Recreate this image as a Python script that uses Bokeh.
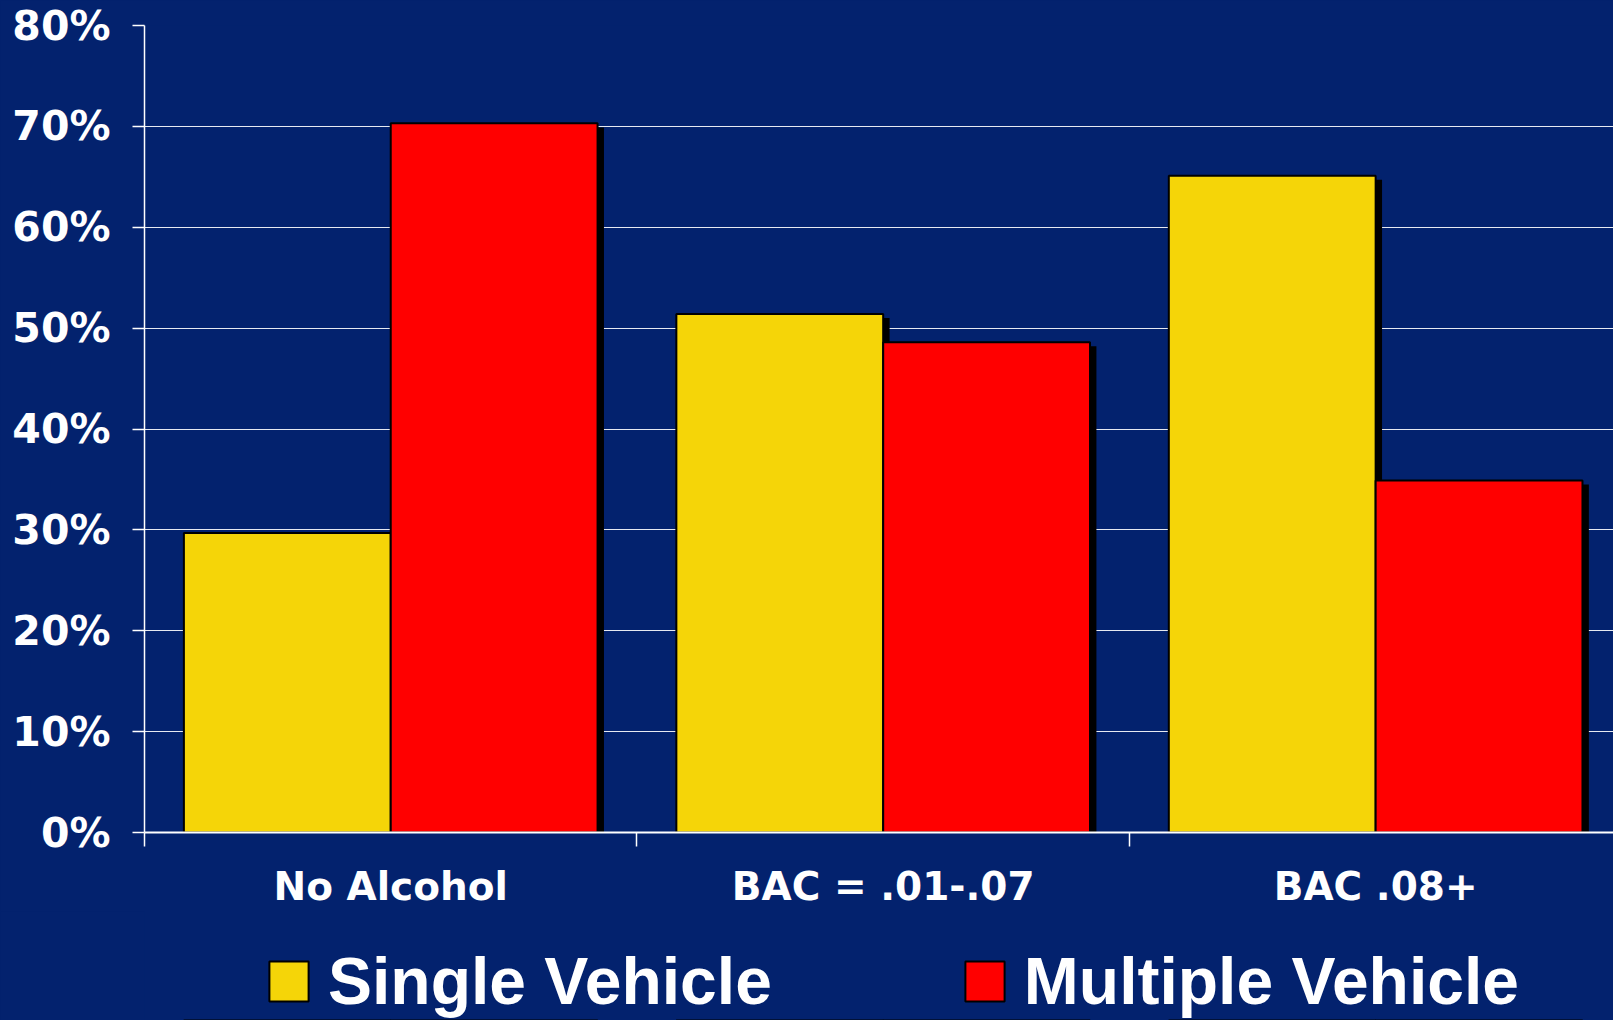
from bokeh.plotting import figure
from bokeh.layouts import column
from bokeh.models import FixedTicker, Legend, LegendItem, Range1d
from bokeh.embed import file_html
from bokeh.resources import INLINE

# ---- data ----
categories = ["No Alcohol", "BAC = .01-.07", "BAC .08+"]
single_vehicle = [29.7, 51.4, 65.1]
multiple_vehicle = [70.3, 48.6, 34.9]
series_names = ["Single Vehicle", "Multiple Vehicle"]
y_ticks = [0, 10, 20, 30, 40, 50, 60, 70, 80]
y_tick_labels = ["0%", "10%", "20%", "30%", "40%", "50%", "60%", "70%", "80%"]

# ---- style ----
BG = "#03226E"
YELLOW = "#F5D508"
RED = "#FF0000"
BAR_W = 0.42
SHADOW_DX = 0.013
SHADOW_DY = 0.4

centers = [i + 0.5 for i in range(len(categories))]
boundaries = [float(i) for i in range(len(categories) + 1)]
x_single = [c - BAR_W / 2 for c in centers]
x_multi = [c + BAR_W / 2 for c in centers]

p = figure(width=1613, height=911, x_range=(0, 2.983), y_range=(0, 80),
           output_backend="svg", toolbar_location=None,
           background_fill_color=BG, background_fill_alpha=0, border_fill_color=BG,
           min_border_left=144, min_border_right=0, min_border_top=25,
           min_border_bottom=78, outline_line_color=None)

# shadows
p.vbar(x=[x + SHADOW_DX for x in x_single], top=[v - SHADOW_DY for v in single_vehicle],
       bottom=-5, width=BAR_W, fill_color="black", line_color=None)
p.vbar(x=[x + SHADOW_DX for x in x_multi], top=[v - SHADOW_DY for v in multiple_vehicle],
       bottom=-5, width=BAR_W, fill_color="black", line_color=None)

r1 = p.vbar(x=x_single, top=single_vehicle, bottom=0, width=BAR_W,
            fill_color=YELLOW, line_color="black", line_width=2)
r2 = p.vbar(x=x_multi, top=multiple_vehicle, bottom=0, width=BAR_W,
            fill_color=RED, line_color="black", line_width=2)

# grid
p.xgrid.grid_line_color = None
p.ygrid.ticker = FixedTicker(ticks=y_ticks)
p.ygrid.grid_line_color = "white"
p.ygrid.grid_line_alpha = 0.9
p.ygrid.grid_line_width = 1
p.ygrid.level = "underlay"

# y axis
ya = p.yaxis[0]
ya.ticker = FixedTicker(ticks=y_ticks)
ya.major_label_overrides = {t: l for t, l in zip(y_ticks, y_tick_labels)}
ya.axis_line_color = "white"
ya.axis_line_width = 1.5
ya.major_tick_line_color = "white"
ya.major_tick_line_width = 1.5
ya.major_tick_out = 12
ya.major_tick_in = 0
ya.minor_tick_line_color = None
ya.major_label_standoff = 22
ya.major_label_text_color = "white"
ya.major_label_text_font = "DejaVu Sans"
ya.major_label_text_font_style = "bold"
ya.major_label_text_font_size = "41px"

# x axis
xa = p.xaxis[0]
xa.ticker = FixedTicker(ticks=centers, minor_ticks=boundaries)
xa.major_label_overrides = {c: n for c, n in zip(centers, categories)}
xa.axis_line_color = "white"
xa.axis_line_width = 2
xa.major_tick_line_color = None
xa.major_tick_out = 0
xa.major_tick_in = 0
xa.minor_tick_line_color = "white"
xa.minor_tick_line_width = 1.5
xa.minor_tick_out = 14
xa.minor_tick_in = 0
xa.major_label_standoff = 17
xa.major_label_text_color = "white"
xa.major_label_text_font = "DejaVu Sans"
xa.major_label_text_font_style = "bold"
xa.major_label_text_font_size = "39px"

# ---- legend strip ----
q = figure(width=1613, height=109, x_range=Range1d(0, 2.983), y_range=Range1d(1000, 1001),
           output_backend="svg", toolbar_location=None,
           background_fill_color=BG, background_fill_alpha=0, border_fill_color=BG,
           x_axis_location=None, y_axis_location=None,
           min_border_left=0, min_border_right=0, min_border_top=0, min_border_bottom=0,
           outline_line_color=None)
q.grid.visible = False
# proxy renderers (out of view) carrying the series styles for the legend
l1 = q.vbar(x=x_single, top=single_vehicle, bottom=0, width=BAR_W,
            fill_color=YELLOW, line_color="black", line_width=2)
l2 = q.vbar(x=x_multi, top=multiple_vehicle, bottom=0, width=BAR_W,
            fill_color=RED, line_color="black", line_width=2)

legend = Legend(items=[LegendItem(label=series_names[0], renderers=[l1]),
                       LegendItem(label=series_names[1], renderers=[l2])],
                orientation="horizontal", location=(120, 1),
                margin=0, padding=0, spacing=188,
                glyph_width=49, glyph_height=50, label_standoff=15,
                label_text_font="Liberation Sans", label_text_font_style="bold",
                label_text_font_size="66px", label_text_color="white",
                border_line_color=None, background_fill_alpha=0)
q.add_layout(legend, "center")

layout = column(p, q, spacing=0, styles={"background-color": BG})
open("out.html", "w").write(file_html(layout, INLINE))
